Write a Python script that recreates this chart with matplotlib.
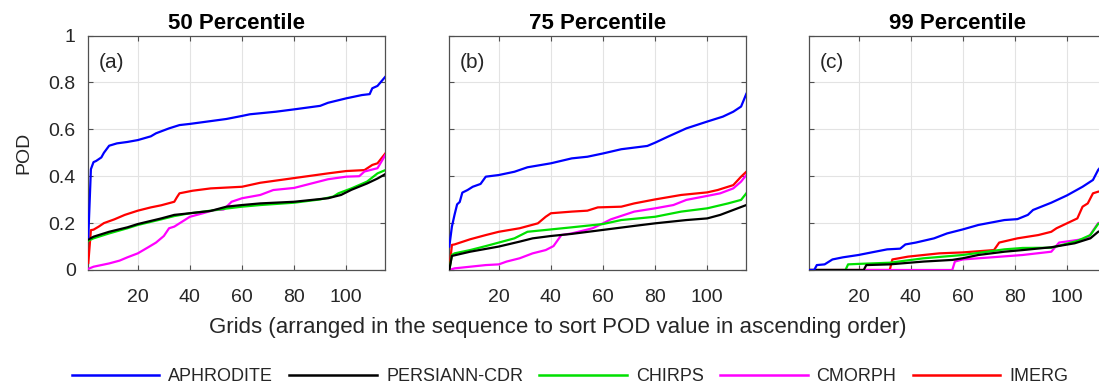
import matplotlib
matplotlib.use("Agg")
import matplotlib.pyplot as plt
from matplotlib.lines import Line2D

plt.rcParams['font.family'] = ['Liberation Sans', 'DejaVu Sans']

# ---- data: grid index (sorted ascending) and POD ----
series_names = ['APHRODITE', 'PERSIANN-CDR', 'CHIRPS', 'CMORPH', 'IMERG']
series_colors = ['#0000ff', '#000000', '#00e000', '#ff00ff', '#ff0000']
panel_titles = ['50 Percentile', '75 Percentile', '99 Percentile']
panel_tags = ['(a)', '(b)', '(c)']
x_ticks = [20, 40, 60, 80, 100]
y_ticks = [0, 0.2, 0.4, 0.6, 0.8, 1]
y_tick_labels = ['0', '0.2', '0.4', '0.6', '0.8', '1']

# (a) 50 percentile
aph_a_x = [1, 2, 3, 4, 6, 7, 9, 12, 16, 20, 25, 27, 32, 36, 40, 48, 54, 60, 63, 73, 80, 90, 93, 100, 106, 109, 110, 112, 115]
aph_a_y = [0.14, 0.43, 0.46, 0.465, 0.48, 0.50, 0.53, 0.54, 0.546, 0.554, 0.57, 0.583, 0.604, 0.618, 0.623, 0.635, 0.644, 0.657, 0.664, 0.675, 0.685, 0.70, 0.713, 0.732, 0.746, 0.75, 0.775, 0.785, 0.824]
per_a_x = [1, 3, 9, 16, 20, 29, 34, 40, 48, 54, 60, 67, 80, 93, 98, 102, 108, 112, 115]
per_a_y = [0.13, 0.142, 0.163, 0.182, 0.196, 0.22, 0.235, 0.242, 0.252, 0.27, 0.277, 0.284, 0.291, 0.306, 0.32, 0.342, 0.369, 0.39, 0.409]
chi_a_x = [1, 2, 3, 9, 16, 20, 29, 34, 40, 48, 54, 60, 67, 80, 90, 95, 97, 102, 108, 112, 115]
chi_a_y = [0.125, 0.13, 0.135, 0.156, 0.178, 0.192, 0.216, 0.23, 0.242, 0.253, 0.262, 0.27, 0.277, 0.287, 0.301, 0.313, 0.327, 0.348, 0.377, 0.412, 0.426]
cmo_a_x = [1, 3, 9, 13, 16, 20, 24, 27, 30, 32, 34, 38, 40, 45, 49, 53, 56, 60, 67, 72, 80, 93, 100, 105, 107, 112, 115]
cmo_a_y = [0.005, 0.014, 0.028, 0.04, 0.054, 0.071, 0.097, 0.117, 0.145, 0.178, 0.185, 0.213, 0.227, 0.242, 0.255, 0.258, 0.291, 0.306, 0.32, 0.341, 0.35, 0.387, 0.398, 0.40, 0.42, 0.434, 0.49]
ime_a_x = [1, 2, 3, 5, 7, 11, 15, 20, 25, 29, 34, 35, 36, 41, 48, 60, 67, 80, 93, 100, 107, 110, 112, 115]
ime_a_y = [0.03, 0.17, 0.172, 0.185, 0.20, 0.216, 0.235, 0.253, 0.267, 0.276, 0.291, 0.31, 0.327, 0.338, 0.348, 0.355, 0.372, 0.392, 0.412, 0.422, 0.426, 0.448, 0.455, 0.497]

# (b) 75 percentile
aph_b_x = [1, 2, 3, 4, 5, 6, 8, 10, 13, 15, 20, 26, 31, 40, 48, 54, 60, 67, 77, 80, 85, 92, 100, 106, 110, 113, 115]
aph_b_y = [0.10, 0.185, 0.235, 0.28, 0.29, 0.33, 0.341, 0.355, 0.367, 0.398, 0.405, 0.419, 0.438, 0.455, 0.476, 0.483, 0.497, 0.515, 0.529, 0.543, 0.569, 0.604, 0.633, 0.654, 0.675, 0.697, 0.751]
per_b_x = [1, 2, 9, 20, 28, 33, 40, 48, 60, 72, 80, 92, 100, 105, 110, 115]
per_b_y = [0.0, 0.06, 0.078, 0.10, 0.121, 0.135, 0.145, 0.154, 0.171, 0.188, 0.199, 0.213, 0.22, 0.235, 0.256, 0.277]
chi_b_x = [1, 2, 3, 9, 15, 20, 26, 31, 40, 48, 60, 67, 80, 90, 100, 108, 113, 115]
chi_b_y = [0.0, 0.064, 0.071, 0.085, 0.102, 0.117, 0.135, 0.163, 0.173, 0.182, 0.196, 0.213, 0.227, 0.249, 0.263, 0.284, 0.299, 0.327]
cmo_b_x = [1, 3, 9, 15, 20, 23, 28, 33, 38, 41, 44, 48, 56, 60, 63, 72, 80, 87, 92, 100, 105, 110, 113, 115]
cmo_b_y = [0.0, 0.007, 0.014, 0.021, 0.024, 0.036, 0.05, 0.071, 0.085, 0.102, 0.149, 0.156, 0.178, 0.199, 0.216, 0.249, 0.263, 0.277, 0.299, 0.316, 0.327, 0.348, 0.377, 0.405]
ime_b_x = [1, 2, 3, 9, 15, 20, 28, 35, 38, 40, 48, 54, 58, 67, 72, 80, 90, 100, 104, 110, 113, 115]
ime_b_y = [0.0, 0.107, 0.109, 0.131, 0.149, 0.163, 0.178, 0.199, 0.227, 0.242, 0.249, 0.253, 0.267, 0.27, 0.284, 0.301, 0.32, 0.331, 0.341, 0.362, 0.398, 0.419]

# (c) 99 percentile
aph_c_x = [1, 3, 4, 7, 10, 14, 20, 25, 31, 36, 38, 42, 49, 54, 60, 66, 76, 81, 85, 87, 94, 100, 106, 110, 112, 113, 115]
aph_c_y = [0.0, 0.0, 0.021, 0.024, 0.045, 0.054, 0.064, 0.075, 0.088, 0.091, 0.109, 0.117, 0.135, 0.156, 0.173, 0.192, 0.213, 0.217, 0.235, 0.256, 0.287, 0.318, 0.355, 0.384, 0.427, 0.44, 0.46]
per_c_x = [1, 22, 23, 32, 45, 56, 60, 66, 76, 83, 94, 103, 109, 112, 115]
per_c_y = [0.0, 0.0, 0.021, 0.024, 0.036, 0.043, 0.05, 0.064, 0.078, 0.085, 0.097, 0.114, 0.135, 0.163, 0.175]
chi_c_x = [1, 15, 16, 20, 32, 45, 60, 76, 83, 94, 104, 109, 112, 115]
chi_c_y = [0.0, 0.0, 0.024, 0.026, 0.031, 0.05, 0.064, 0.088, 0.094, 0.095, 0.124, 0.149, 0.197, 0.205]
cmo_c_x = [1, 56, 57, 60, 71, 83, 94, 97, 104, 108, 112, 115]
cmo_c_y = [0.0, 0.0, 0.036, 0.045, 0.054, 0.064, 0.078, 0.117, 0.128, 0.135, 0.2, 0.21]
ime_c_x = [1, 32, 33, 39, 45, 51, 60, 72, 74, 81, 89, 94, 96, 100, 104, 106, 108, 110, 112, 115]
ime_c_y = [0.0, 0.0, 0.045, 0.057, 0.064, 0.071, 0.075, 0.085, 0.117, 0.135, 0.149, 0.163, 0.178, 0.199, 0.22, 0.27, 0.284, 0.327, 0.334, 0.34]

panels = [
    [(aph_a_x, aph_a_y), (per_a_x, per_a_y), (chi_a_x, chi_a_y), (cmo_a_x, cmo_a_y), (ime_a_x, ime_a_y)],
    [(aph_b_x, aph_b_y), (per_b_x, per_b_y), (chi_b_x, chi_b_y), (cmo_b_x, cmo_b_y), (ime_b_x, ime_b_y)],
    [(aph_c_x, aph_c_y), (per_c_x, per_c_y), (chi_c_x, chi_c_y), (cmo_c_x, cmo_c_y), (ime_c_x, ime_c_y)],
]

W, H = 1099, 385
fig = plt.figure(figsize=(W / 100, H / 100), dpi=100)

ax_bottom = (H - 270) / H
ax_height = 234.5 / H
ax_width = 297 / W
lefts = [88.3 / W, 449.3 / W, 809.0 / W]

spine_col = '#505050'
text_col = '#262626'

for i, left in enumerate(lefts):
    ax = fig.add_axes([left, ax_bottom, ax_width, ax_height])
    for k in range(5):
        xs, ys = panels[i][k]
        ax.plot(xs, ys, color=series_colors[k], lw=1.6, zorder=3.6 if k == 0 else 3 + (4 - k) * 0.1)
    ax.set_xlim(1, 115)
    ax.set_ylim(0, 1)
    ax.set_xticks(x_ticks)
    ax.set_yticks(y_ticks)
    if i == 0:
        ax.set_yticklabels(y_tick_labels)
        ax.set_ylabel('POD', fontsize=14, labelpad=12, color=text_col)
    else:
        ax.set_yticklabels([])
    ax.grid(True, color='#e3e3e3', lw=0.8, zorder=0)
    ax.tick_params(direction='in', length=3.5, width=0.8, top=True, right=True,
                   colors=spine_col, labelcolor=text_col, labelsize=14)
    ax.tick_params(axis='x', pad=14)
    ax.tick_params(axis='y', pad=9)
    for s in ax.spines.values():
        s.set_color(spine_col)
        s.set_linewidth(0.9)
    ax.set_title(panel_titles[i], fontsize=16, fontweight='bold', pad=5)
    ax.text(0.035, 0.885, panel_tags[i], transform=ax.transAxes, fontsize=15,
            va='center', ha='left', color=text_col)

fig.text(558 / W, (H - 327) / H, 'Grids (arranged in the sequence to sort POD value in ascending order)',
         ha='center', va='center', fontsize=16, color=text_col)

handles = [Line2D([], [], color=c, lw=1.8) for c in series_colors]
fig.legend(handles, series_names, loc='center', bbox_to_anchor=(570 / W, (H - 376.5) / H),
           ncol=5, frameon=False, fontsize=13, handlelength=4.85, handletextpad=0.5,
           columnspacing=0.9, borderaxespad=0, borderpad=0, labelcolor=text_col)

fig.savefig('out.png', dpi=100)
